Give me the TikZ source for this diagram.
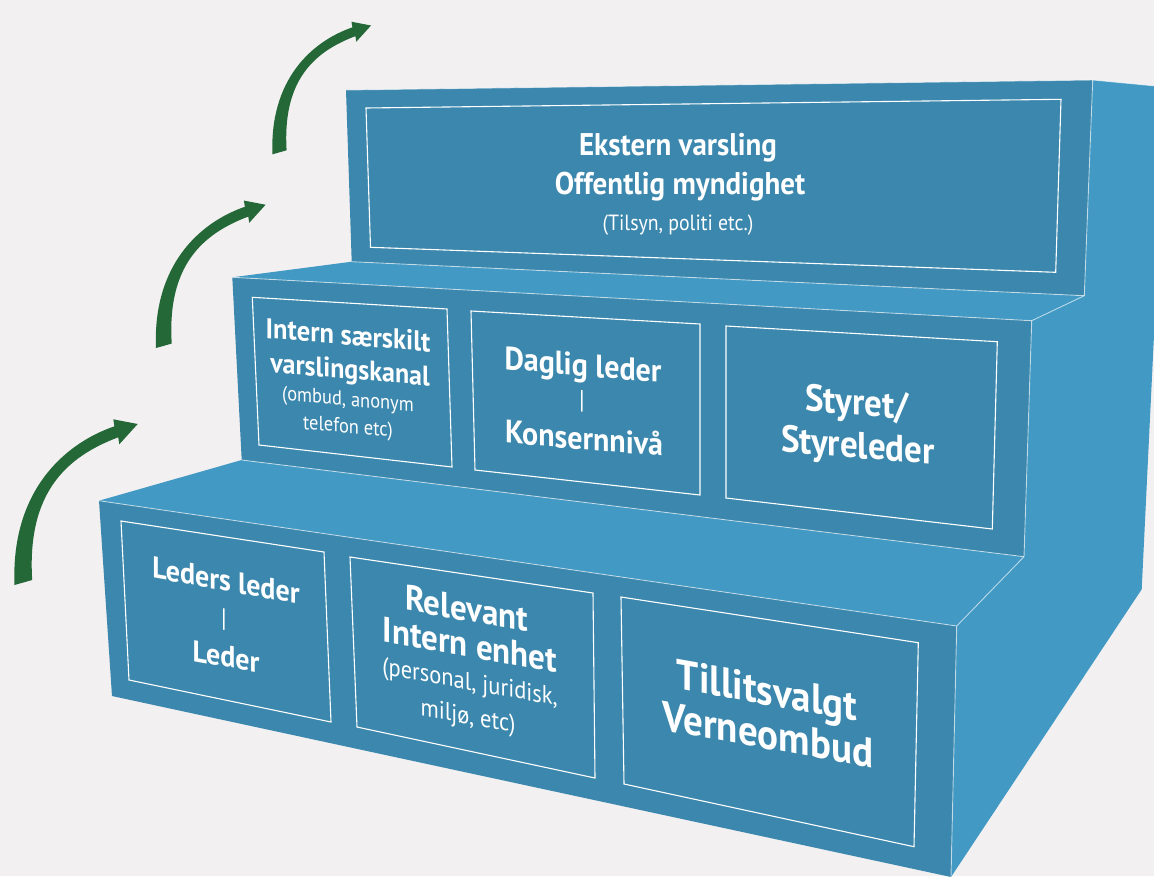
\documentclass[tikz,border=0pt]{standalone}
\usepackage{fontspec}
\setmainfont{PT Sans}
\definecolor{bg}{HTML}{F2F0F1}
\definecolor{front}{HTML}{3B87AD}
\definecolor{lightb}{HTML}{4199C4}
\definecolor{agreen}{HTML}{256838}
\tikzset{
  edge/.style={draw=white, draw opacity=0.6, line width=0.9pt},
  ibox/.style={draw=white, line width=1.1pt},
  lbl/.style={text=white, inner sep=0pt, text height=0pt, text depth=0pt, anchor=center},
  fb/.style={font=\bfseries\fontsize{#1}{#1}\selectfont, yscale=1.08},
  fr/.style={font=\fontsize{#1}{#1}\selectfont, xscale=0.9},
  topf/.style={},
  midf/.style={yslant=-0.085},
  lowf/.style={yslant=-0.18},
  greenarrow/.pic={
    \fill[agreen] (-8.8,2.5) .. controls (-12.5,-89.6) and (39,-138.2) .. (91.1,-156.2)
      -- (90,-163.2) -- (114.4,-158.5) -- (96,-138.2) -- (94.9,-145.2)
      .. controls (43.6,-125.8) and (3.5,-90.4) .. (8.9,-2.5) -- cycle;
  }
}
\begin{document}
\begin{tikzpicture}[x=1pt,y=-1pt]
\useasboundingbox (0,0) rectangle (1154,876);
\clip (0,0) rectangle (1154,876);
\fill[bg] (0,0) rectangle (1154,876);
% corners
\coordinate (A1) at (346,90);
\coordinate (A2) at (1092.7,80);
\coordinate (A3) at (1084.3,295.7);
\coordinate (A4) at (351.7,261.7);
\coordinate (B1) at (232.3,277.3);
\coordinate (B2) at (1031.7,320.7);
\coordinate (B3) at (1024,556.7);
\coordinate (B4) at (241.7,460);
\coordinate (C1) at (99,500.7);
\coordinate (C2) at (956.7,626);
\coordinate (C3) at (951,877);
\coordinate (C4) at (112,696);
\coordinate (S1) at (1166,87);
\coordinate (S2) at (1141.7,589.3);
% faces
\fill[lightb] (A2) -- (S1) -- (S2) -- (C3) -- (C2) -- (B3) -- (B2) -- (A3) -- cycle;
\fill[lightb] (B1) -- (A4) -- (A3) -- (B2) -- cycle;
\fill[lightb] (C1) -- (B4) -- (B3) -- (C2) -- cycle;
\fill[front] (A1) -- (A2) -- (A3) -- (A4) -- cycle;
\fill[front] (B1) -- (B2) -- (B3) -- (B4) -- cycle;
\fill[front] (C1) -- (C2) -- (C3) -- (C4) -- cycle;
% edges
\draw[edge] (A1) -- (A2) -- (S1);
\draw[edge] (A2) -- (A3) -- (B2) -- (B3) -- (C2) -- (C3);
\draw[edge] (A4) -- (A3);
\draw[edge] (B1) -- (B2);
\draw[edge] (B4) -- (B3);
\draw[edge] (C1) -- (C2);
% inner boxes
\draw[ibox] (366,108) -- (1061,99.3) -- (1055.7,272.3) -- (370.5,247.3) -- cycle;
\draw[ibox] (252.3,297.3) -- (447,309) -- (452,467) -- (259,445) -- cycle;
\draw[ibox] (471,311) -- (700,324) -- (700,495) -- (475,470) -- cycle;
\draw[ibox] (726,326) -- (997.3,341.7) -- (992.3,529) -- (726,498) -- cycle;
\draw[ibox] (121,521) -- (324,552) -- (331,722) -- (129,680) -- cycle;
\draw[ibox] (350,557) -- (593,593) -- (595,778) -- (357,727) -- cycle;
\draw[ibox] (621,597) -- (918.3,642.7) -- (914,846.7) -- (624,784) -- cycle;
% arrows
\pic at (23.3,582.5) {greenarrow};
\pic[scale=0.89] at (163.8,345.8) {greenarrow};
\pic[scale=0.80] at (279.5,152.3) {greenarrow};
% texts top (positions are baselines)
\node[lbl, topf, fb=29] (e1) at (678,155) {Ekstern varsling};
\node[lbl, topf, fb=29] (e2) at (680,194) {Offentlig myndighet};
\node[lbl, topf, fr=22] (e3) at (678,230.5) {(Tilsyn, politi etc.)};
% middle
\node[lbl, midf, fb=26.5] (m1a) at (348,345) {Intern særskilt};
\node[lbl, midf, fb=26] (m1b) at (350,379) {varslingskanal};
\node[lbl, midf, fr=20.5] (m1c) at (348,406) {(ombud, anonym};
\node[lbl, midf, fr=20.5] (m1d) at (348,433) {telefon etc)};
\node[lbl, midf, fb=30] (m2a) at (583,376) {Daglig leder};
\node[lbl, midf, fr=26] (m2b) at (582,409) {|};
\node[lbl, midf, fb=30] (m2c) at (584,449.5) {Konsernnivå};
\node[lbl, midf, fb=35] (m3a) at (857,415) {Styret/};
\node[lbl, midf, fb=35] (m3b) at (858,458) {Styreleder};
% lower
\node[lbl, lowf, fb=28] (l1a) at (226,591) {Leders leder};
\node[lbl, lowf, fr=26] (l1b) at (224,627) {|};
\node[lbl, lowf, fb=28] (l1c) at (226,667) {Leder};
\node[lbl, lowf, fb=33] (l2a) at (467,621) {Relevant};
\node[lbl, lowf, fb=33] (l2b) at (470,657) {Intern enhet};
\node[lbl, lowf, fr=25] (l2c) at (470,690) {(personal, juridisk,};
\node[lbl, lowf, fr=25] (l2d) at (468,724) {miljø, etc)};
\node[lbl, lowf, fb=39] (l3a) at (767,705) {Tillitsvalgt};
\node[lbl, lowf, fb=39] (l3b) at (768,749) {Verneombud};
\end{tikzpicture}
\end{document}
